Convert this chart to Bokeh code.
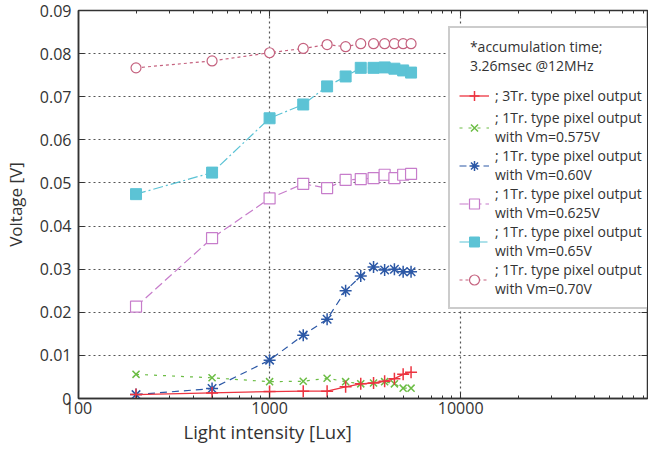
from bokeh.plotting import figure
from bokeh.models import (LogAxis, LinearAxis, Legend, LegendItem, Title, CustomJSTickFormatter,
                          LogTicker, SingleIntervalTicker, Range1d)
from bokeh.embed import file_html
from bokeh.resources import INLINE

lux = [200, 500, 1000, 1500, 2000, 2500, 3000, 3500, 4000, 4500, 5000, 5500]
v_3tr = [0.0009, 0.0013, 0.0016, 0.0017, 0.0017, 0.0027, 0.0034, 0.0036, 0.0040, 0.0046, 0.0056, 0.0061]
v_0575 = [0.0056, 0.0048, 0.0039, 0.0040, 0.0047, 0.0039, 0.0034, 0.0036, 0.0039, 0.0034, 0.0024, 0.0024]
v_060 = [0.0009, 0.0023, 0.0089, 0.0147, 0.0184, 0.0250, 0.0284, 0.0305, 0.0298, 0.0300, 0.0294, 0.0294]
v_0625 = [0.0213, 0.0372, 0.0464, 0.0498, 0.0488, 0.0507, 0.0509, 0.0511, 0.0519, 0.0511, 0.0519, 0.0521]
v_065 = [0.0474, 0.0524, 0.0650, 0.0682, 0.0724, 0.0747, 0.0767, 0.0767, 0.0768, 0.0765, 0.0761, 0.0756]
v_070 = [0.0767, 0.0783, 0.0802, 0.0812, 0.0821, 0.0816, 0.0823, 0.0823, 0.0823, 0.0823, 0.0823, 0.0823]

labels = ["; 3Tr. type pixel output",
          "; 1Tr. type pixel output\nwith Vm=0.575V",
          "; 1Tr. type pixel output\nwith Vm=0.60V",
          "; 1Tr. type pixel output\nwith Vm=0.625V",
          "; 1Tr. type pixel output\nwith Vm=0.65V",
          "; 1Tr. type pixel output\nwith Vm=0.70V"]
legend_title = "\u00a0\u00a0\u00a0*accumulation time;\n\u00a0\u00a0\u00a03.26msec @12MHz"
x_label = "Light intensity [Lux]"
y_label = "Voltage [V]"

FONT = "Open Sans"
TXT = "#333333"

p = figure(width=648, height=443, x_axis_type="log",
           x_range=Range1d(100, 95000), y_range=Range1d(0, 0.09),
           output_backend="svg", toolbar_location=None,
           min_border_left=72, min_border_right=1, min_border_top=10, min_border_bottom=44)
p.outline_line_color = "#333333"
p.outline_line_width = 1.5
p.background_fill_color = "white"
p.border_fill_color = "white"

# axes
p.xaxis.ticker = LogTicker(num_minor_ticks=10)
p.xaxis.formatter = CustomJSTickFormatter(code="return tick.toFixed(0);")
p.yaxis.ticker = SingleIntervalTicker(interval=0.01, num_minor_ticks=0)
p.yaxis.formatter = CustomJSTickFormatter(code="return Math.abs(tick) < 1e-9 ? '0' : tick.toFixed(2);")
p.yaxis.axis_label = y_label
p.yaxis.axis_label_text_font = FONT
p.yaxis.axis_label_text_font_size = "17px"
p.yaxis.axis_label_text_font_style = "normal"
p.yaxis.axis_label_text_color = TXT
p.yaxis.axis_label_standoff = 10

for ax in [p.xaxis[0], p.yaxis[0]]:
    ax.major_label_text_font = FONT
    ax.major_label_text_font_size = "16px"
    ax.major_label_text_color = TXT
    ax.major_tick_in = 6
    ax.major_tick_out = 0
    ax.minor_tick_in = 3
    ax.minor_tick_out = 0
    ax.axis_line_color = "#333333"
    ax.axis_line_width = 1.5
    ax.major_tick_line_color = "#333333"
    ax.minor_tick_line_color = "#333333"
p.yaxis.minor_tick_line_color = None
p.xaxis.major_label_standoff = 3
p.yaxis.major_label_standoff = 7

# mirrored axes (top / right) with ticks only
blank = CustomJSTickFormatter(code="return '';")
top = LogAxis(ticker=LogTicker(num_minor_ticks=10), formatter=blank,
              major_tick_in=6, major_tick_out=0, minor_tick_in=3, minor_tick_out=0,
              major_label_text_font_size="0px", major_label_standoff=0,
              axis_line_color="#333333", major_tick_line_color="#333333", minor_tick_line_color="#333333")
right = LinearAxis(ticker=SingleIntervalTicker(interval=0.01, num_minor_ticks=0), formatter=blank,
                   major_tick_in=6, major_tick_out=0, minor_tick_line_color=None,
                   major_label_text_font_size="0px", major_label_standoff=0,
                   axis_line_color="#333333", major_tick_line_color="#333333")
p.add_layout(top, "above")
p.add_layout(right, "right")

# grid
for g in [p.xgrid[0], p.ygrid[0]]:
    g.grid_line_color = "#555555"
    g.grid_line_dash = "2 3"
    g.grid_line_width = 1.2

# x axis label, placed under the 1000 region as in the original
p.add_layout(Title(text=x_label, align="left", offset=105, text_font=FONT,
                   text_font_size="18.5px", text_font_style="normal", text_color=TXT,
                   standoff=0), "below")

# 0.70V
c = "#c5627f"
l6 = p.line(lux, v_070, line_color=c, line_width=1.2, line_dash="3 3")
s6 = p.scatter(lux, v_070, marker="circle", size=10, line_color=c, fill_color="white", line_width=1.2)
# 0.65V
c = "#5cc3d5"
l5 = p.line(lux, v_065, line_color=c, line_width=1.2, line_dash="10 3 2 3")
s5 = p.scatter(lux, v_065, marker="square", size=11, line_color=c, fill_color=c)
# 0.625V
c = "#c77dcb"
l4 = p.line(lux, v_0625, line_color=c, line_width=1.2, line_dash="9 4")
s4 = p.scatter(lux, v_0625, marker="square", size=11, line_color=c, fill_color="white", line_width=1.2)
# 0.60V
c = "#2c58a6"
l3 = p.line(lux, v_060, line_color=c, line_width=1.2, line_dash="7 5")
s3 = p.scatter(lux, v_060, marker="asterisk", size=12, line_color=c, line_width=1.5)
# 0.575V
c = "#6cbd45"
l2 = p.line(lux, v_0575, line_color=c, line_width=1.2, line_dash="3 6")
s2 = p.scatter(lux, v_0575, marker="x", size=10, line_color=c, line_width=1.5)
# 3Tr
c = "#ec3440"
l1 = p.line(lux, v_3tr, line_color=c, line_width=1.3)
s1 = p.scatter(lux, v_3tr, marker="cross", size=12, line_color=c, line_width=1.5)

pairs = [(l1, s1), (l2, s2), (l3, s3), (l4, s4), (l5, s5), (l6, s6)]
items = [LegendItem(label=lab, renderers=[l, s]) for lab, (l, s) in zip(labels, pairs)]

legend = Legend(items=items, location=(370, 89), title=legend_title,
                title_text_font=FONT, title_text_font_size="14px", title_text_font_style="normal",
                title_text_color=TXT, title_standoff=8, title_text_line_height=0.6,
                label_text_font=FONT, label_text_font_size="14px", label_text_color=TXT,
                label_text_line_height=0.6,
                glyph_width=30, glyph_height=25, label_standoff=6, spacing=0, padding=9,
                border_line_color="#999999", border_line_width=2, background_fill_alpha=1.0)
p.add_layout(legend)

open("out.html", "w").write(file_html(p, INLINE))
